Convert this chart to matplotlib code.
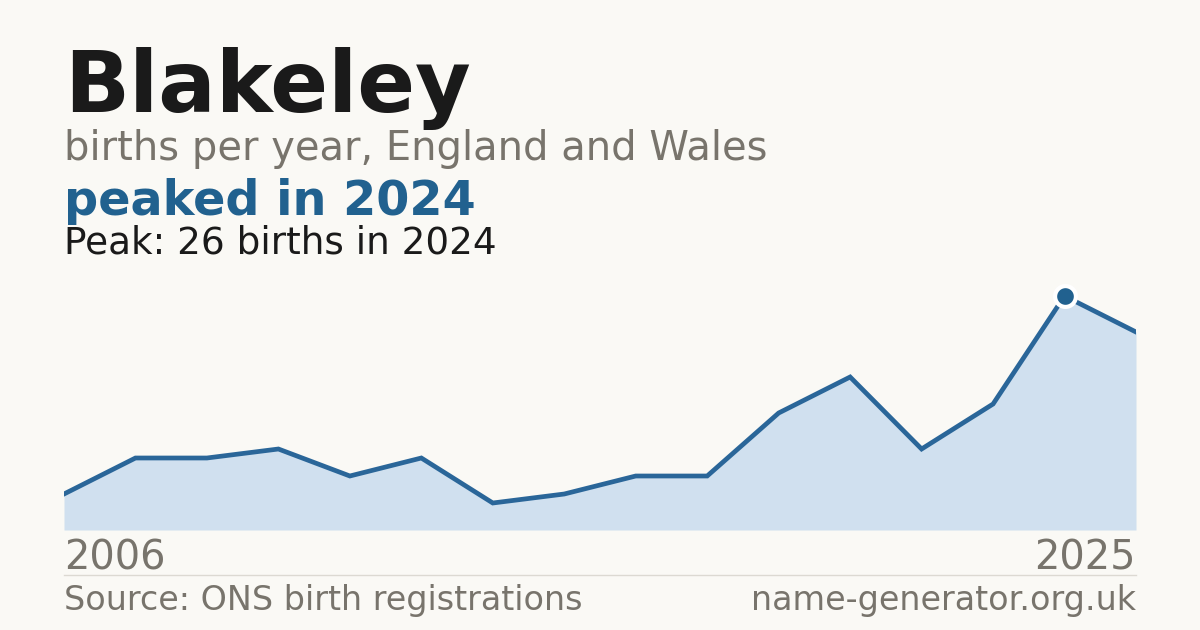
import matplotlib
matplotlib.use("Agg")
import matplotlib.pyplot as plt
from matplotlib.lines import Line2D

# ---- data ----
births = [4, 8, 8, 9, 6, 8, 3, 4, 6, 6, 13, 17, 9, 14, 26, 22]
first_year_label = "2006"
last_year_label = "2025"
peak_value = 26
peak_year = "2024"
name = "Blakeley"
subtitle = "births per year, England and Wales"
headline = "peaked in 2024"
peak_text = "Peak: 26 births in 2024"
source_text = "Source: ONS birth registrations"
site_text = "name-generator.org.uk"

BG = "#faf9f5"
DARK = "#1a1a1a"
GRAY = "#78746c"
BLUE = "#21618f"
LINE = "#2a6699"
FILL = "#d0e0ef"

W, H = 1200, 630
fig = plt.figure(figsize=(12, 6.3), dpi=100, facecolor=BG)
plt.rcParams['font.family'] = ['DejaVu Sans']

def fx(px):
    return px / W

def fy(py):
    return 1 - py / H

# axes
left, right, top, bottom = 64, 1136, 296, 530
ax = fig.add_axes([fx(left), fy(bottom), (right - left) / W, (bottom - top) / H])
ax.set_facecolor(BG)
ax.patch.set_alpha(0)
x = list(range(len(births)))
ax.fill_between(x, births, 0, color=FILL, lw=0, zorder=1)
ax.plot(x, births, color=LINE, lw=3.4, solid_joinstyle='miter', zorder=2)
pk = births.index(peak_value)
ax.plot([pk], [births[pk]], 'o', ms=15, mfc=BLUE, mec='white', mew=3, zorder=3, clip_on=False)
ax.set_xlim(0, len(births) - 1)
ax.set_ylim(0, peak_value)
ax.axis('off')

# texts
fig.text(fx(64), fy(112), name, fontsize=61.5, fontweight='bold', color=DARK, va='baseline', ha='left')
fig.text(fx(64), fy(160), subtitle, fontsize=28.8, color=GRAY, va='baseline', ha='left')
fig.text(fx(64), fy(215), headline, fontsize=34.4, fontweight='bold', color=BLUE, va='baseline', ha='left')
fig.text(fx(64), fy(254), peak_text, fontsize=26.9, color=DARK, va='baseline', ha='left')

fig.text(fx(64), fy(569), first_year_label, fontsize=28.7, color=GRAY, va='baseline', ha='left')
fig.text(fx(1136), fy(569), last_year_label, fontsize=28.7, color=GRAY, va='baseline', ha='right')

fig.add_artist(Line2D([fx(64), fx(1136)], [fy(574.5), fy(574.5)], color="#dcd9d2", lw=1))

fig.text(fx(64), fy(610), source_text, fontsize=24, color=GRAY, va='baseline', ha='left')
fig.text(fx(1136), fy(610), site_text, fontsize=24, color=GRAY, va='baseline', ha='right')

fig.savefig("out.png", dpi=100, facecolor=BG)
